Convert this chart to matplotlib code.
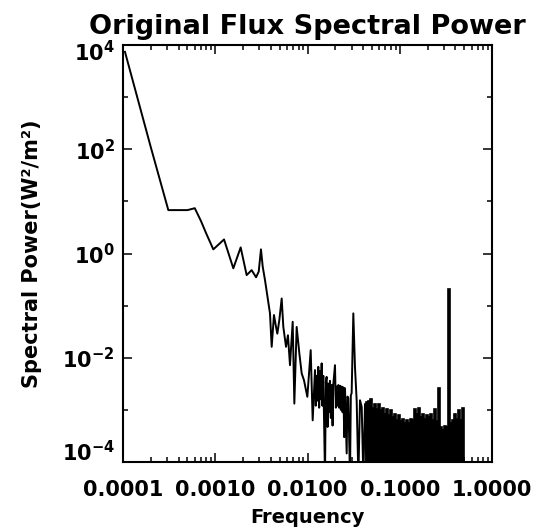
# Original flux spectral power, log-log plot in IDL style

import numpy as np
import matplotlib
matplotlib.use('Agg')
import matplotlib.pyplot as plt
from matplotlib.ticker import FixedLocator, LogLocator, NullFormatter
from matplotlib.transforms import ScaledTranslation

# spectrum, sparse part
freq = [1.05e-4, 2.0e-4, 3.1e-4, 4.0e-4, 5.0e-4, 6.0e-4, 7.0e-4, 8.0e-4,
        9.53e-4, 1.245e-3, 1.57e-3, 1.886e-3, 2.19e-3, 2.48e-3, 2.77e-3,
        2.96e-3, 3.13e-3, 3.27e-3, 3.46e-3, 3.92e-3, 4.09e-3, 4.33e-3,
        4.56e-3, 4.71e-3, 4.95e-3, 5.25e-3, 5.47e-3, 5.85e-3, 6.14e-3,
        6.46e-3, 6.91e-3, 7.20e-3, 7.63e-3, 8.16e-3, 8.65e-3, 9.16e-3,
        9.96e-3, 0.01083, 0.01138, 0.01206, 0.0123, 0.01257, 0.0128, 0.0131,
        0.01338, 0.01366, 0.0139, 0.01424, 0.0145, 0.01484, 0.01548, 0.0158,
        0.01613, 0.0165, 0.01683, 0.0172, 0.01753, 0.0179, 0.01828,
        0.0187, 0.01905, 0.01986, 0.0203, 0.02071, 0.0211, 0.0216, 0.022,
        0.02251, 0.0230, 0.02347, 0.0240, 0.02446, 0.025, 0.0255, 0.02658,
        0.0271, 0.0277, 0.02888, 0.0295, 0.0301, 0.03139, 0.0327,
        0.03411, 0.0356, 0.03707, 0.0387, 0.04029, 0.0420, 0.04378]
power = [7.4e3, 1.1e2, 6.8, 6.8, 6.8, 7.4, 4.2, 2.4,
         1.2, 1.86, 0.52, 1.31, 0.385, 0.48, 0.35,
         0.45, 1.2, 0.56, 0.31, 0.071, 0.0162, 0.066,
         0.039, 0.029, 0.053, 0.137, 0.039, 0.0162, 0.027,
         0.0072, 0.049, 0.00132, 0.039, 0.0121, 0.0050, 0.0037,
         0.00178, 0.014, 0.00063, 0.0058, 0.0012, 0.0045, 0.0015, 0.0067,
         0.0011, 0.0055, 0.0016, 0.0078, 0.0012, 0.0045, 5e-5, 0.0035,
         0.0043, 0.00047, 0.0032, 0.0009, 0.0036, 0.0007, 0.0030,
         0.0005, 0.0031, 0.0072, 0.0011, 0.0028, 0.0012, 0.0030, 0.0011,
         0.0029, 0.0010, 0.0028, 0.0009, 0.0027, 0.0003, 0.0026, 0.000146,
         0.0018, 0.0017, 5e-5, 0.0019, 0.0021, 0.071, 0.0067,
         0.00153, 5e-5, 0.00153, 0.00114, 5e-5, 0.0013, 5e-5]

# dense high-frequency part: upper edge of the black band
band_freq = [0.0445, 0.0468, 0.0492, 0.0517, 0.0544, 0.0572, 0.0601, 0.0632,
             0.0664, 0.0698, 0.0734, 0.0771, 0.0811, 0.0852, 0.0896, 0.0942,
             0.0990, 0.1041, 0.1094, 0.1150, 0.1209, 0.1271, 0.1336, 0.1404,
             0.1476, 0.1552, 0.1631, 0.1715, 0.1803, 0.1895, 0.1992, 0.2094,
             0.2201, 0.2314, 0.2432, 0.2557, 0.2688, 0.2825, 0.2970, 0.3122,
             0.3282, 0.3450, 0.3627, 0.3812, 0.4008, 0.4213, 0.4429, 0.4656,
             0.4894]
band_power = [1.4e-3, 1.5e-3, 1.6e-3, 1.1e-3, 1.3e-3, 1.05e-3, 1.3e-3, 1.0e-3,
              1.1e-3, 8.5e-4, 1.05e-3, 8.0e-4, 1.0e-3, 7.4e-4, 8.5e-4, 6.4e-4,
              8.0e-4, 6.0e-4, 6.8e-4, 5.5e-4, 6.4e-4, 5.5e-4, 6.8e-4, 6.4e-4,
              1.05e-3, 8.5e-4, 1.1e-3, 7.4e-4, 8.5e-4, 6.8e-4, 8.0e-4, 7.4e-4,
              8.5e-4, 6.4e-4, 1.05e-3, 6.0e-4, 2.6e-3, 4.7e-4, 4.1e-4, 5.0e-4,
              4.7e-4, 0.21, 5.5e-4, 6.4e-4, 8.5e-4, 6.8e-4, 1.0e-3, 6.4e-4,
              1.1e-3]

x_ticks = [1e-4, 1e-3, 1e-2, 1e-1, 1.0]
x_labels = ['0.0001', '0.0010', '0.0100', '0.1000', '1.0000']
y_ticks = [1e-4, 1e-2, 1e0, 1e2, 1e4]
y_minor = [1e-3, 1e-1, 1e1, 1e3]
y_labels = [r'$10^{-4}$', r'$10^{-2}$', r'$10^{0}$', r'$10^{2}$', r'$10^{4}$']

plt.rcParams['font.family'] = 'DejaVu Sans'
plt.rcParams['mathtext.fontset'] = 'dejavusans'
plt.rcParams['mathtext.default'] = 'bf'

fig = plt.figure(figsize=(5.49, 5.29), dpi=100)
ax = fig.add_axes([123 / 549, 1 - 462 / 529, 369 / 549, 417 / 529])

ax.plot(freq, power, color='black', linewidth=1.4)

# band edges half way (in log) between the band frequencies
bf = np.array(band_freq)
edges = np.sqrt(bf[:-1] * bf[1:])
edges = np.concatenate([[bf[0] ** 2 / edges[0]], edges, [bf[-1] ** 2 / edges[-1]]])
ax.stairs(band_power, edges, baseline=1e-6, fill=True, color='black')
ax.stairs(band_power, edges, baseline=1e-6, color='black', linewidth=1.2)

ax.set_xscale('log')
ax.set_yscale('log')
ax.set_xlim(1e-4, 1.0)
ax.set_ylim(1e-4, 1e4)

ax.xaxis.set_major_locator(FixedLocator(x_ticks))
ax.xaxis.set_minor_locator(LogLocator(base=10, subs=np.arange(2, 10), numticks=20))
ax.xaxis.set_minor_formatter(NullFormatter())
ax.set_xticklabels(x_labels, fontsize=15, fontweight='bold')

ax.yaxis.set_major_locator(FixedLocator(y_ticks))
ax.yaxis.set_minor_locator(FixedLocator(y_minor))
ax.yaxis.set_minor_formatter(NullFormatter())
ax.set_yticklabels(y_labels, fontsize=15)

ax.tick_params(which='both', direction='in', top=True, right=True, width=1.1, color='black')
ax.tick_params(which='major', length=6.5)
ax.tick_params(which='minor', length=3.8)
ax.tick_params(axis='x', which='major', pad=13)
ax.tick_params(axis='y', which='major', pad=6)

# end labels sit a bit inside, as in the original
ylabs = ax.get_yticklabels()
ylabs[0].set_transform(ylabs[0].get_transform() + ScaledTranslation(0, 8 / 72, fig.dpi_scale_trans))
ylabs[-1].set_transform(ylabs[-1].get_transform() + ScaledTranslation(0, -4 / 72, fig.dpi_scale_trans))

for side in ax.spines.values():
    side.set_linewidth(1.5)

ax.set_title('Original Flux Spectral Power', fontsize=19.5, fontweight='bold', pad=8)
ax.set_xlabel('Frequency', fontsize=14, fontweight='bold', labelpad=6)
ax.set_ylabel('Spectral Power(W²/m²)', fontsize=15, fontweight='bold', labelpad=14)

fig.savefig('out.png', dpi=100)
